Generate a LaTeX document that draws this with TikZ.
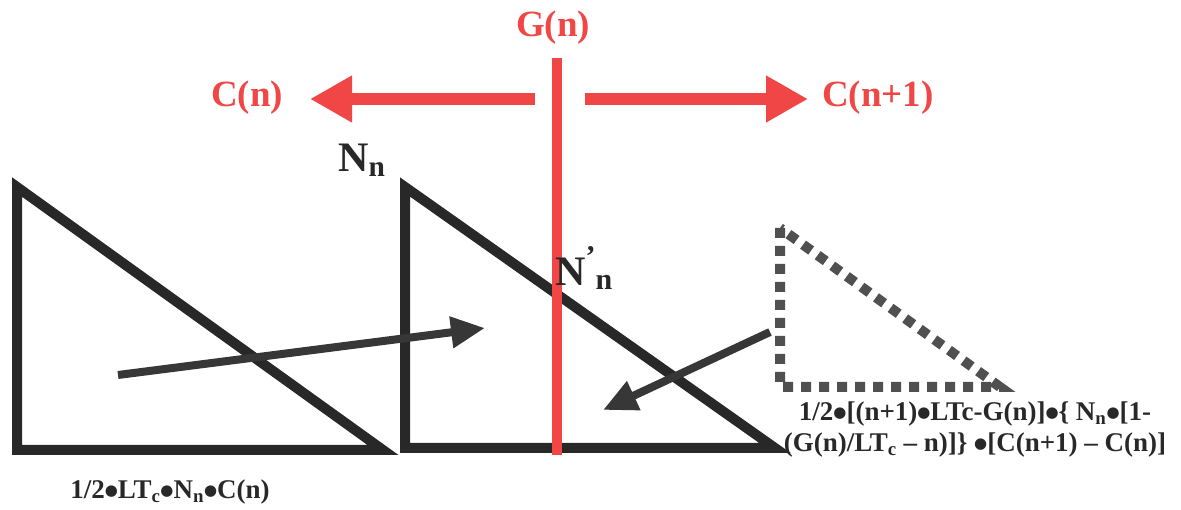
\documentclass[tikz,border=0pt]{standalone}
\usepackage{fontspec}
\setmainfont{Liberation Serif}
\newfontfamily\dejavu{DejaVu Sans}
\usetikzlibrary{arrows.meta}
\definecolor{redc}{RGB}{240,70,70}
\definecolor{darkc}{RGB}{40,40,40}
\definecolor{arrc}{RGB}{55,55,55}
\definecolor{dotc}{RGB}{80,80,80}
\newcommand{\bul}{{\dejavu\fontsize{15}{15}\selectfont\raisebox{0.22em}{●}}}
\begin{document}
\begin{tikzpicture}[x=1pt,y=-1pt,
  tri/.style={draw=darkc,line width=10pt,line join=miter},
  dottri/.style={draw=dotc,line width=10pt,dash pattern=on 10pt off 8pt},
  redarrow/.style={draw=redc,line width=12pt,-{Triangle[length=42pt,width=44pt]}},
  grayarrow/.style={draw=arrc,line width=8pt,-{Triangle[length=34pt,width=30pt]}},
  redlbl/.style={text=redc,font=\bfseries\fontsize{37}{37}\selectfont,inner sep=0pt},
  blk/.style={text=darkc,font=\bfseries\fontsize{42}{42}\selectfont,inner sep=0pt},
  formula/.style={text=darkc,font=\bfseries\fontsize{27}{31}\selectfont,inner sep=0pt,align=center}]
\useasboundingbox (0,0) rectangle (1181,510);
% triangles
\draw[tri] (17,187) -- (17,450) -- (383,450) -- cycle;
\draw[tri] (405,187) -- (405,448) -- (775,448) -- cycle;
\draw[dottri] (780,228) -- (780,387) -- (1000,387) -- cycle;
% red line and arrows
\coordinate (rtop) at (557,58);
\coordinate (rbot) at (557,455);
\draw[redc,line width=10pt] (rtop) -- (rbot);
\node[redlbl] (g) at (553,28) {G(n)};
\node[redlbl] (cl) at (247,98) {C(n)};
\node[redlbl] (cr) at (878,98) {C(n+1)};
\coordinate (la) at (535,99);
\coordinate (lt) at (310,99);
\coordinate (ra) at (585,99);
\coordinate (rt) at (808,99);
\draw[redarrow] (la) -- (lt);
\draw[redarrow] (ra) -- (rt);
% labels
\node[blk] (nn) at (362,160) {N\textsubscript{n}};
\node[blk,anchor=west] (nnp) at (555,268) {N\raisebox{0.45em}{\fontsize{30}{30}\selectfont'}\raisebox{-0.1em}{\fontsize{30}{30}\selectfont n}};
% gray arrows
\coordinate (a1s) at (118,375);
\coordinate (a1e) at (485,328);
\coordinate (a2s) at (770,332);
\coordinate (a2e) at (603,410);
\draw[grayarrow] (a1s) -- (a1e);
\draw[grayarrow] (a2s) -- (a2e);
% formulas
\node[formula] (f1) at (975,430) {1/2\bul[(n+1)\bul LTc-G(n)]\bul\{ N\textsubscript{n}\bul[1-\\(G(n)/LT\textsubscript{c} -- n)]\} \bul[C(n+1) -- C(n)]};
\node[formula] (f2) at (170,492) {1/2\bul LT\textsubscript{c}\bul N\textsubscript{n}\bul C(n)};
\end{tikzpicture}
\end{document}
